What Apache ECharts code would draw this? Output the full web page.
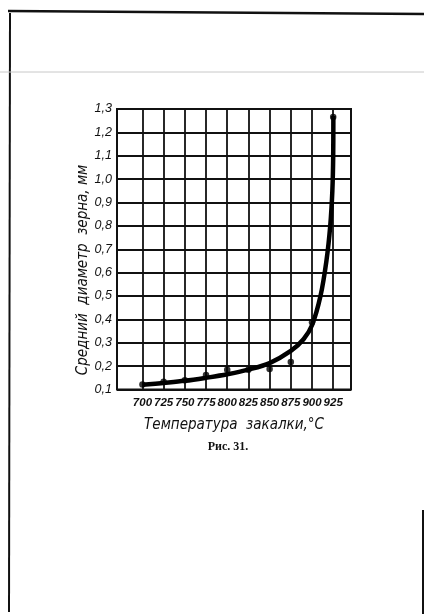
<!DOCTYPE html>
<html>
<head>
<meta charset="utf-8">
<script src="https://cdn.jsdelivr.net/npm/echarts@6/dist/echarts.min.js"></script>
<style>
  html, body { margin: 0; padding: 0; background: #fff; }
  #chart { width: 424px; height: 614px; }
</style>
</head>
<body>
<div id="chart"></div>
<script>
// Quenching temperature (°C) at which grain size was measured
const temperatures = [700, 725, 750, 775, 800, 825, 850, 875, 900, 925];
// Measured mean grain diameter, mm
const grainDiameter = [0.121, 0.133, 0.14, 0.162, 0.185, 0.185, 0.188, 0.218, 0.388, 1.266];
// Smoothed trend curve drawn through the measurements
const curveTemps = [700, 725, 750, 775, 800, 825, 850, 875, 890, 900, 910, 917, 921.5, 924, 925, 925.2];
const curveValues = [0.12, 0.128, 0.137, 0.15, 0.165, 0.185, 0.213, 0.265, 0.315, 0.375, 0.5, 0.65, 0.8, 0.95, 1.1, 1.27];
// Axis tick values
const xTicks = [700, 725, 750, 775, 800, 825, 850, 875, 900, 925];
const yMin = 0.1, yMax = 1.3, yStep = 0.1;

const xTitle = 'Температура  закалки,°C';
const yTitle = 'Средний  диаметр  зерна, мм';
const caption = 'Рис. 31.';

const handFont = "'DejaVu Sans Condensed', 'DejaVu Sans', sans-serif";
const tickFont = "'Liberation Sans', Arial, sans-serif";

const chart = echarts.init(document.getElementById('chart'), null, { renderer: 'canvas' });

chart.setOption({
  backgroundColor: '#ffffff',
  animation: false,
  grid: {
    left: 117, top: 109, width: 234, height: 280.5,
    show: true, borderColor: '#111', borderWidth: 2, backgroundColor: 'transparent'
  },
  xAxis: {
    type: 'value',
    min: 670, max: 946,
    axisLine: { show: false },
    axisTick: { show: false, customValues: xTicks },
    axisLabel: {
      customValues: xTicks,
      hideOverlap: false,
      showMinLabel: true,
      showMaxLabel: true,
      margin: 7,
      color: '#111',
      fontFamily: tickFont, fontStyle: 'italic', fontWeight: 'bold', fontSize: 11.5,
      formatter: v => String(v)
    },
    splitLine: { show: true, lineStyle: { color: '#111', width: 1.8 } },
    name: xTitle,
    nameLocation: 'middle',
    nameGap: 28,
    nameTextStyle: { color: '#111', fontFamily: handFont, fontStyle: 'italic', fontSize: 15 }
  },
  yAxis: {
    type: 'value',
    min: yMin, max: yMax, interval: yStep,
    axisLine: { show: false },
    axisTick: { show: false },
    axisLabel: {
      margin: 5,
      color: '#111',
      fontFamily: tickFont, fontStyle: 'italic', fontSize: 12.5,
      formatter: v => v.toFixed(1).replace('.', ',')
    },
    splitLine: { show: true, lineStyle: { color: '#111', width: 1.8 } }
  },
  series: [
    {
      type: 'line',
      data: curveTemps.map((t, i) => [t, curveValues[i]]),
      smooth: 0.35,
      showSymbol: false,
      lineStyle: { color: '#000', width: 4.5 },
      z: 3
    },
    {
      type: 'scatter',
      data: temperatures.map((t, i) => [t, grainDiameter[i]]),
      symbol: 'circle',
      symbolSize: 6.5,
      itemStyle: { color: '#000' },
      z: 4
    }
  ],
  graphic: [
    // page frame of the printed sheet
    { type: 'line', shape: { x1: 8, y1: 11, x2: 424, y2: 14 }, style: { stroke: '#111', lineWidth: 2.5 } },
    { type: 'line', shape: { x1: 10, y1: 13, x2: 9, y2: 612 }, style: { stroke: '#111', lineWidth: 2 } },
    { type: 'line', shape: { x1: 423, y1: 510, x2: 423, y2: 614 }, style: { stroke: '#111', lineWidth: 2 } },
    { type: 'line', shape: { x1: 0, y1: 72, x2: 424, y2: 72 }, style: { stroke: '#c8c8c8', lineWidth: 1 } },
    // vertical axis title
    {
      type: 'text', x: 83, y: 270, rotation: Math.PI / 2,
      style: {
        text: yTitle, fill: '#111', font: "italic 15px " + handFont,
        align: 'center', verticalAlign: 'middle'
      }
    },
    // figure caption
    {
      type: 'text', x: 228, y: 447,
      style: {
        text: caption, fill: '#111', font: "bold 12px 'Liberation Serif', serif",
        align: 'center', verticalAlign: 'middle'
      }
    }
  ]
});
</script>
</body>
</html>
